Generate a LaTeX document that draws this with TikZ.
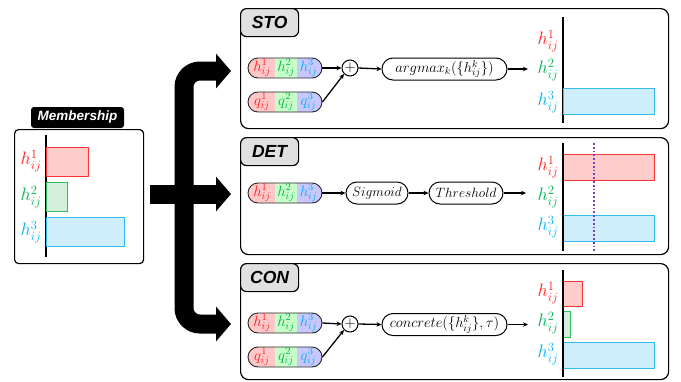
\RequirePackage{fix-cm}
\documentclass[tikz,border=0pt]{standalone}
\usepackage{fontspec}
\setsansfont{Liberation Sans}
\usetikzlibrary{arrows.meta,calc}
\definecolor{cR}{HTML}{FF1F1F}
\definecolor{cG}{HTML}{00B050}
\definecolor{cB}{HTML}{00B0F0}
\definecolor{bR}{HTML}{FFCCCC}
\definecolor{bRd}{HTML}{FF3333}
\definecolor{bG}{HTML}{D2EFDA}
\definecolor{bGd}{HTML}{33BB66}
\definecolor{bB}{HTML}{CDEEFA}
\definecolor{bBd}{HTML}{33BBEE}
\definecolor{pR}{HTML}{FFC8C8}
\definecolor{pG}{HTML}{C8FFC8}
\definecolor{pB}{HTML}{C8C8FF}
\definecolor{tagg}{HTML}{E0E0E0}
\definecolor{purp}{HTML}{7F3FBF}
\newcommand\mkpill[3]{%
  \node[pillbox] (#1) at (#2) {};
  \node[pilltext,text=cR] (#1-1) at ([xshift=-23pt]#1.center) {$#3^1_{ij}$};
  \node[pilltext,text=cG] (#1-2) at ([xshift=1pt]#1.center) {$#3^2_{ij}$};
  \node[pilltext,text=cB] (#1-3) at ([xshift=23.5pt]#1.center) {$#3^3_{ij}$};
}
\begin{document}
\begin{tikzpicture}[x=1pt,y=-1pt,
  panel/.style={draw, line width=1.2pt, rounded corners=8pt, anchor=north west, inner sep=0pt},
  tagbox/.style={draw, fill=tagg, line width=1.2pt, rounded corners=6pt, anchor=north west,
     minimum width=58pt, minimum height=28pt, inner sep=0pt,
     font=\sffamily\bfseries\itshape\fontsize{17.5}{20}\selectfont},
  axisline/.style={line width=2.2pt},
  lab/.style={inner sep=0pt, font=\fontsize{18}{20}\selectfont},
  barR/.style={draw=bRd, fill=bR, line width=0.9pt},
  barG/.style={draw=bGd, fill=bG, line width=0.9pt},
  barB/.style={draw=bBd, fill=bB, line width=0.9pt},
  pillbox/.style={draw=black!85, line width=0.9pt, rounded corners=10pt,
     minimum width=74pt, minimum height=20pt, inner sep=0pt,
     path picture={
       \fill[pR, sharp corners] (path picture bounding box.south west) rectangle ([xshift=27pt]path picture bounding box.north west);
       \fill[pG, sharp corners] ([xshift=27pt]path picture bounding box.south west) rectangle ([xshift=49pt]path picture bounding box.north west);
       \fill[pB, sharp corners] ([xshift=49pt]path picture bounding box.south west) rectangle (path picture bounding box.north east);
     }},
  pilltext/.style={inner sep=0pt, font=\fontsize{15}{17}\selectfont},
  opbox/.style={draw, line width=1pt, rounded corners=11pt, minimum height=22pt, inner sep=0pt,
     font=\fontsize{13.5}{16}\selectfont},
  plusnode/.style={draw, circle, line width=1pt, minimum size=16pt, inner sep=0pt,
     font=\fontsize{15}{16}\selectfont},
  flow/.style={line width=1.3pt, -{Stealth[length=5pt,width=4.5pt]}},
  bigarrow/.style={line width=19pt, rounded corners=16pt, -{Triangle[length=15pt,width=34pt]}}
]
\useasboundingbox (0,0) rectangle (681,381);

% ---------- Membership ----------
\node[panel, rounded corners=4pt, minimum width=129pt, minimum height=134pt] (memb) at (14,129) {};
\node[fill=black, rounded corners=3pt, minimum width=93pt, minimum height=21pt, inner sep=0pt,
      text=white, font=\sffamily\bfseries\itshape\fontsize{13.5}{16}\selectfont] (membtag) at (77.5,117.5) {Membership};
\draw[line width=1.3pt] (46,135) -- (46,257);
\draw[barR] (46,147) rectangle (88,176);
\draw[barG] (46,182) rectangle (67,211);
\draw[barB] (46,217) rectangle (124,246);
\node[lab, text=cR] (m1) at (31,161) {$h^1_{ij}$};
\node[lab, text=cG] (m2) at (31,197) {$h^2_{ij}$};
\node[lab, text=cB] (m3) at (31,232) {$h^3_{ij}$};

% ---------- big arrows ----------
\coordinate (split) at (184,194);
\coordinate (tstart) at (150,194);
\coordinate (ttop) at (231,71);
\coordinate (tmid) at (231,194);
\coordinate (tbot) at (231,324);
\draw[bigarrow] (split) |- (ttop);
\draw[bigarrow] (split) |- (tbot);
\draw[bigarrow] (tstart) -- (tmid);

% ---------- STO ----------
\node[panel, minimum width=428pt, minimum height=120pt] (sto) at (240,8) {};
\node[tagbox] (stot) at (240,8) {STO};
\mkpill{sh}{285,68}{h}
\mkpill{sq}{285,102}{q}
\node[plusnode] (splus) at (350,68) {$+$};
\node[opbox, minimum width=125pt, font=\fontsize{14.5}{16}\selectfont] (sarg) at (444.5,69) {$argmax_k(\{h^k_{ij}\})$};
\coordinate (sout) at (528,69);
\draw[flow] (sh.east) -- (splus.west);
\draw[flow] (sq.east) -- (splus.south west);
\draw[flow] (splus.east) -- (sarg.west);
\draw[flow] (sarg.east) -- (sout);
\draw[axisline] (563,17) -- (563,123);
\draw[barB] (563,88) rectangle (654,114);
\node[lab, text=cR] (s1) at (548,41) {$h^1_{ij}$};
\node[lab, text=cG] (s2) at (548,70) {$h^2_{ij}$};
\node[lab, text=cB] (s3) at (548,102) {$h^3_{ij}$};

% ---------- DET ----------
\node[panel, minimum width=428pt, minimum height=117pt] (det) at (240,137) {};
\node[tagbox] (dett) at (240,137) {DET};
\mkpill{dh}{285,193}{h}
\node[opbox, minimum width=62pt] (dsig) at (377,193) {$Sigmoid$};
\node[opbox, minimum width=74pt] (dthr) at (466,193) {$Threshold$};
\coordinate (dout) at (526,193);
\draw[flow] (dh.east) -- (dsig.west);
\draw[flow] (dsig.east) -- (dthr.west);
\draw[flow] (dthr.east) -- (dout);
\draw[barR] (563,154) rectangle (654,180);
\draw[barB] (563,215) rectangle (654,241);
\draw[axisline] (563,143) -- (563,251);
\draw[purp, line width=1.8pt, dotted] (594,143) -- (594,251);
\node[lab, text=cR] (d1) at (548,167) {$h^1_{ij}$};
\node[lab, text=cG] (d2) at (548,197) {$h^2_{ij}$};
\node[lab, text=cB] (d3) at (548,227) {$h^3_{ij}$};

% ---------- CON ----------
\node[panel, minimum width=428pt, minimum height=116pt] (con) at (240,263) {};
\node[tagbox] (cont) at (240,263) {CON};
\mkpill{ch}{285,323}{h}
\mkpill{cq}{285,357}{q}
\node[plusnode] (cplus) at (350,324) {$+$};
\node[opbox, minimum width=125pt, font=\fontsize{14.5}{16}\selectfont] (ccon) at (444.5,324.5) {$concrete(\{h^k_{ij}\},\tau)$};
\coordinate (cout) at (528,324.5);
\draw[flow] (ch.east) -- (cplus.west);
\draw[flow] (cq.east) -- (cplus.south west);
\draw[flow] (cplus.east) -- (ccon.west);
\draw[flow] (ccon.east) -- (cout);
\draw[barR] (563,281) rectangle (582,306);
\draw[barG] (563,311) rectangle (570,337);
\draw[barB] (563,342) rectangle (654,368);
\draw[axisline] (563,270) -- (563,377);
\node[lab, text=cR] (c1) at (548,293) {$h^1_{ij}$};
\node[lab, text=cG] (c2) at (548,323) {$h^2_{ij}$};
\node[lab, text=cB] (c3) at (548,354) {$h^3_{ij}$};
\end{tikzpicture}
\end{document}
